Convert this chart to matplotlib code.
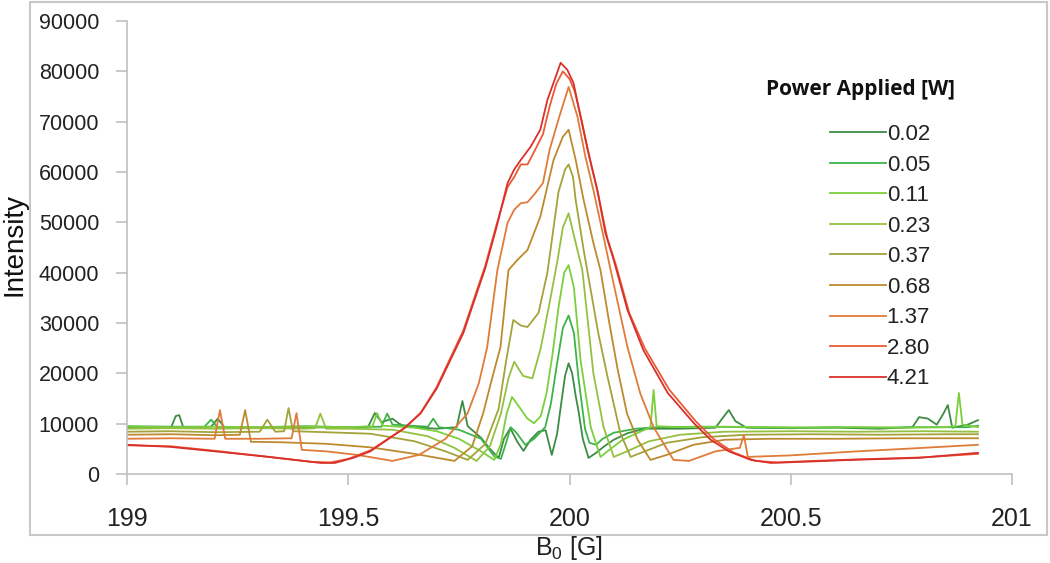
import matplotlib
matplotlib.use('Agg')
import matplotlib.pyplot as plt
from matplotlib.patches import Rectangle

plt.rcParams['font.family'] = ['Liberation Sans', 'DejaVu Sans']
plt.rcParams['mathtext.default'] = 'regular'

# Power levels (W) and line colours
powers = ['0.02', '0.05', '0.11', '0.23', '0.37', '0.68', '1.37', '2.80', '4.21']
colors = ['#3d8b45', '#3db34a', '#7ccf3c', '#95c040', '#a3a33a',
          '#bd8a2e', '#e07b39', '#ec5a35', '#d9302c']

# Spectra: field B0 [G] and intensity
b_002 = [199.00, 199.05, 199.10, 199.11, 199.118, 199.127, 199.16, 199.19, 199.205, 199.22,
         199.30, 199.40, 199.50, 199.545, 199.56, 199.575, 199.60, 199.615, 199.63, 199.70,
         199.745, 199.758, 199.77, 199.80, 199.82, 199.84, 199.852, 199.866, 199.882, 199.896,
         199.912, 199.93, 199.946, 199.96, 199.972, 199.982, 199.99, 199.998, 200.006, 200.014,
         200.02, 200.03, 200.043, 200.06, 200.077, 200.10, 200.131, 200.17, 200.25, 200.33,
         200.345, 200.36, 200.375, 200.40, 200.50, 200.60, 200.70, 200.775, 200.79, 200.81,
         200.83, 200.845, 200.855, 200.865, 200.90, 200.923]
i_002 = [9300, 9200, 9300, 11500, 11700, 9300, 9300, 9400, 11000, 9300,
         9100, 9300, 9200, 9400, 12100, 10300, 11000, 10000, 9400, 9000,
         9300, 14500, 9500, 7200, 5000, 3200, 7000, 9100, 6400, 4600,
         6800, 8400, 8700, 3800, 8000, 14500, 19500, 22000, 20000, 15500,
         12700, 7000, 3200, 4200, 5400, 6800, 8100, 9000, 9000, 9200,
         11000, 12700, 10500, 9200, 9100, 9200, 9000, 9300, 11300, 11000,
         9800, 12000, 13700, 9200, 9800, 10700]

b_005 = [199.00, 199.10, 199.175, 199.19, 199.205, 199.30, 199.40, 199.50, 199.575, 199.588,
         199.60, 199.68, 199.692, 199.705, 199.75, 199.80, 199.83, 199.845, 199.856, 199.867,
         199.88, 199.90, 199.92, 199.945, 199.958, 199.972, 199.985, 199.998, 200.01, 200.02,
         200.035, 200.045, 200.06, 200.075, 200.10, 200.15, 200.20, 200.30, 200.40, 200.50,
         200.60, 200.70, 200.80, 200.90, 200.923]
i_005 = [9500, 9400, 9400, 10800, 9300, 9300, 9500, 9300, 9400, 12000,
         9800, 9400, 11000, 9300, 8800, 7000, 3500, 3000, 6000, 9300,
         8200, 5800, 7000, 9300, 14000, 22000, 29000, 31500, 28000, 19300,
         9000, 6200, 5800, 7000, 8200, 9000, 9300, 9400, 9300, 9200,
         9300, 9200, 9300, 9300, 9600]

b_011 = [199.00, 199.10, 199.20, 199.30, 199.40, 199.50, 199.555, 199.565, 199.578, 199.65,
         199.70, 199.75, 199.80, 199.83, 199.845, 199.858, 199.87, 199.885, 199.905, 199.92,
         199.935, 199.948, 199.962, 199.975, 199.988, 199.998, 200.01, 200.025, 200.048, 200.07,
         200.09, 200.12, 200.15, 200.183, 200.19, 200.197, 200.25, 200.35, 200.45, 200.55,
         200.65, 200.75, 200.85, 200.872, 200.88, 200.888, 200.923]
i_011 = [9400, 9300, 9400, 9300, 9400, 9300, 9500, 12100, 9600, 9200,
         8500, 7000, 4500, 2800, 6000, 12000, 15300, 13500, 11000, 10100,
         11500, 16000, 24000, 33000, 40000, 41500, 37000, 22600, 9300, 3400,
         4800, 6800, 8000, 9300, 16700, 9500, 9300, 9400, 9300, 9200,
         9300, 9200, 9300, 9500, 16100, 9800, 9300]

b_023 = [199.00, 199.10, 199.20, 199.30, 199.40, 199.425, 199.437, 199.45, 199.50, 199.60,
         199.68, 199.74, 199.79, 199.82, 199.845, 199.862, 199.875, 199.895, 199.916, 199.935,
         199.955, 199.973, 199.985, 199.998, 200.014, 200.029, 200.054, 200.077, 200.10, 200.13,
         200.18, 200.25, 200.35, 200.50, 200.65, 200.80, 200.923]
i_023 = [9000, 9100, 9000, 9100, 9000, 9100, 12000, 9000, 9000, 8800,
         7500, 5200, 2600, 5500, 12000, 19000, 22300, 19500, 19000, 25000,
         34000, 42500, 49000, 51800, 45900, 40500, 20000, 9300, 3400, 4500,
         6500, 7800, 8400, 8500, 8400, 8500, 8400]

b_037 = [199.00, 199.10, 199.20, 199.30, 199.317, 199.335, 199.355, 199.365, 199.375, 199.45,
         199.55, 199.65, 199.72, 199.77, 199.81, 199.84, 199.857, 199.873, 199.89, 199.905,
         199.93, 199.95, 199.975, 199.99, 199.998, 200.008, 200.014, 200.032, 200.045, 200.065,
         200.086, 200.115, 200.138, 200.17, 200.22, 200.30, 200.40, 200.55, 200.70, 200.85,
         200.923]
i_037 = [8400, 8500, 8300, 8400, 10800, 8400, 8500, 13100, 8500, 8300,
         8000, 6500, 4500, 2800, 6000, 13000, 22600, 30600, 29500, 29200,
         32000, 40000, 56000, 60500, 61500, 59000, 54400, 44500, 38000, 28000,
         19300, 8100, 3400, 4500, 6200, 7300, 7800, 7900, 7800, 7900,
         7900]

b_068 = [199.00, 199.10, 199.20, 199.255, 199.267, 199.28, 199.35, 199.45, 199.55, 199.65,
         199.74, 199.78, 199.805, 199.825, 199.844, 199.862, 199.882, 199.905, 199.934, 199.964,
         199.985, 199.998, 200.014, 200.032, 200.054, 200.07, 200.09, 200.109, 200.13, 200.154,
         200.183, 200.22, 200.28, 200.35, 200.45, 200.60, 200.75, 200.923]
i_068 = [7800, 7900, 7700, 7800, 12700, 6400, 6300, 6000, 5300, 4000,
         2600, 5500, 12100, 19000, 25200, 40500, 42500, 44500, 51100, 62400,
         67000, 68400, 62400, 54400, 45900, 40500, 30000, 20700, 12000, 6800,
         2800, 3800, 5800, 6800, 7000, 7000, 7100, 7100]

b_137 = [199.00, 199.10, 199.198, 199.21, 199.222, 199.30, 199.372, 199.383, 199.395, 199.45,
         199.52, 199.60, 199.66, 199.72, 199.77, 199.795, 199.814, 199.837, 199.86, 199.875,
         199.89, 199.905, 199.92, 199.94, 199.955, 199.977, 199.998, 200.018, 200.036, 200.054,
         200.077, 200.093, 200.131, 200.16, 200.19, 200.235, 200.27, 200.33, 200.385, 200.394,
         200.403, 200.50, 200.65, 200.80, 200.923]
i_137 = [7000, 7100, 7000, 12700, 7000, 7000, 7100, 12100, 4800, 4500,
         3800, 2600, 3800, 7000, 12100, 18000, 25200, 40500, 49900, 52500,
         53800, 54000, 55500, 57800, 64400, 71000, 76900, 71000, 63000, 56400,
         47100, 40500, 25200, 16000, 9300, 2800, 2600, 4500, 5200, 7700,
         3400, 3700, 4500, 5200, 5800]

b_280 = [199.00, 199.10, 199.20, 199.30, 199.42, 199.46, 199.50, 199.55, 199.59, 199.63,
         199.665, 199.70, 199.76, 199.81, 199.835, 199.86, 199.875, 199.89, 199.905, 199.92,
         199.94, 199.955, 199.97, 199.985, 200.00, 200.012, 200.028, 200.045, 200.065, 200.085,
         200.105, 200.135, 200.17, 200.225, 200.285, 200.325, 200.37, 200.42, 200.47, 200.55,
         200.65, 200.80, 200.923]
i_280 = [5700, 5500, 4600, 3600, 2400, 2300, 3000, 4700, 7000, 9300,
         12300, 17300, 28500, 41500, 49500, 57000, 59000, 61500, 61500, 64000,
         67500, 73000, 77500, 80000, 78500, 76000, 70000, 63000, 55500, 47000,
         41500, 32000, 25000, 16800, 10500, 7000, 4300, 2600, 2300, 2600,
         2900, 3300, 4000]

b_421 = [199.00, 199.097, 199.21, 199.32, 199.437, 199.47, 199.511, 199.55, 199.588, 199.625,
         199.663, 199.70, 199.76, 199.81, 199.835, 199.86, 199.875, 199.89, 199.912, 199.934,
         199.95, 199.965, 199.98, 199.995, 200.009, 200.025, 200.041, 200.063, 200.081, 200.10,
         200.131, 200.167, 200.222, 200.281, 200.319, 200.36, 200.41, 200.455, 200.55, 200.636,
         200.787, 200.923]
i_421 = [5800, 5400, 4400, 3400, 2200, 2200, 3200, 4500, 6800, 9000,
         12000, 17000, 28000, 41000, 49000, 57800, 60500, 62400, 65000, 68400,
         74300, 78000, 81700, 80300, 77700, 71000, 64400, 56400, 47900, 42500,
         32600, 24600, 16100, 10100, 6800, 4500, 2800, 2200, 2500, 2800,
         3200, 4200]

fields = [b_002, b_005, b_011, b_023, b_037, b_068, b_137, b_280, b_421]
intensities = [i_002, i_005, i_011, i_023, i_037, i_068, i_137, i_280, i_421]

x_ticks = [199, 199.5, 200, 200.5, 201]
x_labels = ['199', '199.5', '200', '200.5', '201']
y_ticks = list(range(0, 90001, 10000))

fig = plt.figure(figsize=(10.5, 5.63), dpi=100)
ax = fig.add_axes([127/1050, 1 - 474/563, 885/1050, 453/563])

for b, inten, p, c in zip(fields, intensities, powers, colors):
    ax.plot(b, inten, color=c, lw=1.3, label=p)

ax.set_xlim(199, 201)
ax.set_ylim(0, 90000)
ax.set_xticks(x_ticks)
ax.set_xticklabels(x_labels)
ax.set_yticks(y_ticks)
ax.set_yticklabels([str(v) for v in y_ticks])

for s in ['top', 'right']:
    ax.spines[s].set_visible(False)
for s in ['left', 'bottom']:
    ax.spines[s].set_color('#c0c0c0')
    ax.spines[s].set_linewidth(1.2)
ax.tick_params(axis='both', colors='#c0c0c0', length=8, width=1.2, direction='out')
ax.tick_params(axis='x', labelsize=18, labelcolor='#222222', pad=16)
ax.tick_params(axis='y', labelsize=15.5, labelcolor='#222222', pad=12)

# axis titles
fig.text(15/1050, 1 - 245/563, 'Intensity', rotation=90, ha='center', va='center',
         fontsize=20, color='#111111')
fig.text(569/1050, 1 - 548/563, 'B$_0$ [G]', ha='center', va='center',
         fontsize=18, color='#222222')

# legend
fig.text(861/1050, 1 - 90/563, 'Power Applied [W]', ha='center', va='center',
         fontsize=15, fontweight='bold', family=['Open Sans', 'DejaVu Sans'], color='#111111')
leg = ax.legend(loc='upper left', bbox_to_anchor=(830/1050, 1 - 124/563),
                bbox_transform=fig.transFigure, frameon=False, fontsize=16,
                handlelength=2.5, handletextpad=0.05, labelspacing=0.43,
                borderpad=0, borderaxespad=0)
for t in leg.get_texts():
    t.set_color('#222222')

# outer frame of the chart
fig.patches.append(Rectangle((30/1050, 1 - 535/563), 1017/1050, 533/563,
                             transform=fig.transFigure, fill=False,
                             edgecolor='#c8c8c8', lw=1.5))

fig.savefig('out.png', dpi=100)
